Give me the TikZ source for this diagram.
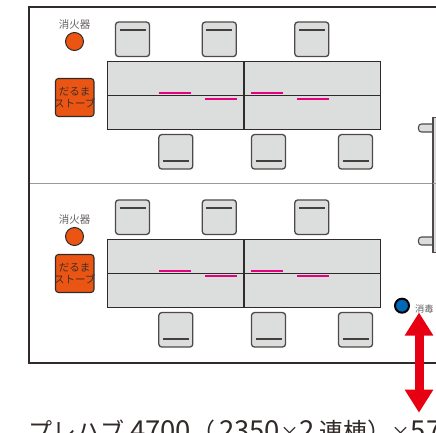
\documentclass[tikz,border=0pt]{standalone}
\usepackage{fontspec}
\setmainfont{Noto Sans CJK JP}
\usepackage{xcolor}
\usetikzlibrary{arrows.meta}
\definecolor{deskgray}{HTML}{DCDDDD}
\definecolor{stoveorange}{HTML}{EA5514}
\definecolor{pinkline}{HTML}{E4007F}
\definecolor{bluedot}{HTML}{0068B7}
\definecolor{redarrow}{HTML}{E60012}
\definecolor{inkdark}{HTML}{302A28}
\newcommand{\capnum}[1]{{\fontsize{27.5pt}{28pt}\selectfont #1}}
\newcommand{\captimes}{{\fontsize{19pt}{28pt}\selectfont ×}}

\begin{document}
\begin{tikzpicture}[x=1pt,y=-1pt,>=stealth,semithick]
  \tikzstyle{every node}=[inner sep=0pt,outer sep=0pt]
  \tikzstyle{chair}=[draw=inkdark!85,line width=1.3pt,fill=deskgray,rounded corners=3pt,minimum width=34pt,minimum height=34.5pt]
  \tikzstyle{desk}=[draw=inkdark,line width=1.2pt,fill=deskgray,minimum width=136.5pt,minimum height=68pt]
  \tikzstyle{stove}=[draw=inkdark,line width=1.1pt,fill=stoveorange,rounded corners=3pt,minimum width=38.5pt,minimum height=38pt]
  \tikzstyle{stovetext}=[align=center,font=\fontsize{10.5pt}{13pt}\selectfont,text=inkdark!90!stoveorange]
  \tikzstyle{extinguisher}=[circle,draw=inkdark,line width=1pt,fill=stoveorange,minimum size=18pt]
  \tikzstyle{smalltext}=[font=\fontsize{10.5pt}{12pt}\selectfont,text=inkdark!75]
  \tikzstyle{pink}=[draw=pinkline,line width=1.8pt]
  \tikzstyle{seatline}=[draw=inkdark!90,line width=1.2pt]
  \tikzstyle{cabinet}=[draw=inkdark!85,line width=1.1pt,fill=deskgray]
  \useasboundingbox (0,0) rectangle (436,433);

  \coordinate (FT) at (436,7);
  \coordinate (FTL) at (29,7);
  \coordinate (FBL) at (29,362.5);
  \coordinate (FB) at (436,362.5);
  \coordinate (ML) at (29,183);
  \coordinate (MR) at (436,183);
  \draw[gray!80,line width=0.9pt] (ML) -- (MR);
  \draw[inkdark,line width=2pt] (FT) -- (FTL) -- (FBL) -- (FB);

  % upper room
  \node[smalltext]    (LabelA) at (74.5,25)   {消火器};
  \node[extinguisher] (ExtA)   at (74.5,41.5) {};
  \node[stove]        (StoveA) at (74.7,97.5) {};
  \node[stovetext]    (TextA)  at (StoveA)    {だるま\\[-1.5pt]ストーブ};
  \node[desk] (DeskA) at (175.8,95.7) {};
  \node[desk] (DeskB) at (312.3,95.7) {};
  \node[chair] (ChairA) at (132.5,39.3)  {};
  \node[chair] (ChairB) at (219.3,39.3)  {};
  \node[chair] (ChairC) at (311.8,39.3)  {};
  \node[chair] (ChairD) at (175.8,151.8) {};
  \node[chair] (ChairE) at (268.5,151.8) {};
  \node[chair] (ChairF) at (355.5,151.8) {};

  % lower room
  \node[smalltext]    (LabelB) at (74.5,220)   {消火器};
  \node[extinguisher] (ExtB)   at (74.5,236.5) {};
  \node[stove]        (StoveB) at (74.7,273.5) {};
  \node[stovetext]    (TextB)  at (StoveB)     {だるま\\[-1.5pt]ストーブ};
  \node[desk] (DeskC) at (175.8,273.3) {};
  \node[desk] (DeskD) at (312.3,273.3) {};
  \node[chair] (ChairG) at (132.5,217.2) {};
  \node[chair] (ChairH) at (219.3,217.2) {};
  \node[chair] (ChairI) at (311.8,217.2) {};
  \node[chair] (ChairJ) at (175.8,329.8) {};
  \node[chair] (ChairK) at (268.5,329.8) {};
  \node[chair] (ChairL) at (355.5,329.8) {};

  \foreach \c in {ChairA,ChairB,ChairC,ChairG,ChairH,ChairI}
    \draw[seatline] ([xshift=4pt,yshift=-8pt]\c.north west) -- ([xshift=-4pt,yshift=-8pt]\c.north east);
  \foreach \c in {ChairD,ChairE,ChairF,ChairJ,ChairK,ChairL}
    \draw[seatline] ([xshift=4pt,yshift=8pt]\c.south west) -- ([xshift=-4pt,yshift=8pt]\c.south east);
  \foreach \d in {DeskA,DeskB,DeskC,DeskD}
    \draw[inkdark,line width=1.2pt] (\d.west) -- (\d.east);

  % pink marks
  \foreach \d in {DeskA,DeskC} {
    \draw[pink] ([xshift=-16.8pt,yshift=2.7pt]\d.center) -- ([xshift=15.2pt,yshift=2.7pt]\d.center);
    \draw[pink] ([xshift=29.2pt,yshift=-3pt]\d.center) -- ([xshift=61.2pt,yshift=-3pt]\d.center);
  }
  \foreach \d in {DeskB,DeskD} {
    \draw[pink] ([xshift=-61.3pt,yshift=2.7pt]\d.center) -- ([xshift=-29.3pt,yshift=2.7pt]\d.center);
    \draw[pink] ([xshift=-15.3pt,yshift=-3pt]\d.center) -- ([xshift=16.7pt,yshift=-3pt]\d.center);
  }

  % cabinet at the right edge
  \node[cabinet,rounded corners=3pt,minimum width=24pt,minimum height=8pt] (HandleA) at (430.5,128) {};
  \node[cabinet,rounded corners=3pt,minimum width=24pt,minimum height=8pt] (HandleB) at (430.5,241) {};
  \node[cabinet,minimum width=20pt,minimum height=135.5pt] (Cabinet) at (443,185) {};
  \draw[gray!80,line width=0.9pt] (Cabinet.west |- MR) -- (MR);

  % disinfectant and arrow
  \node[circle,draw=black,line width=2pt,fill=bluedot,minimum size=14pt] (Spray) at (402,305.7) {};
  \node[anchor=west,font=\fontsize{9.3pt}{11pt}\selectfont,text=inkdark!75] (SprayText) at (415,309) {消毒};
  \coordinate (ArrowTop) at (419,312.5);
  \coordinate (ArrowBottom) at (419,412.7);
  \draw[{Triangle[width=27pt,length=23pt]}-{Triangle[width=27pt,length=23pt]},redarrow,line width=9pt] (ArrowTop) -- (ArrowBottom);

  \node[anchor=base west,font=\fontsize{24pt}{28pt}\selectfont,text=inkdark] (Caption) at (28,440)
    {プレハブ\capnum{ 4700}（\hspace{4pt}\capnum{2350}\captimes\capnum{2} 連棟）\captimes\capnum{57}};
\end{tikzpicture}
\end{document}
